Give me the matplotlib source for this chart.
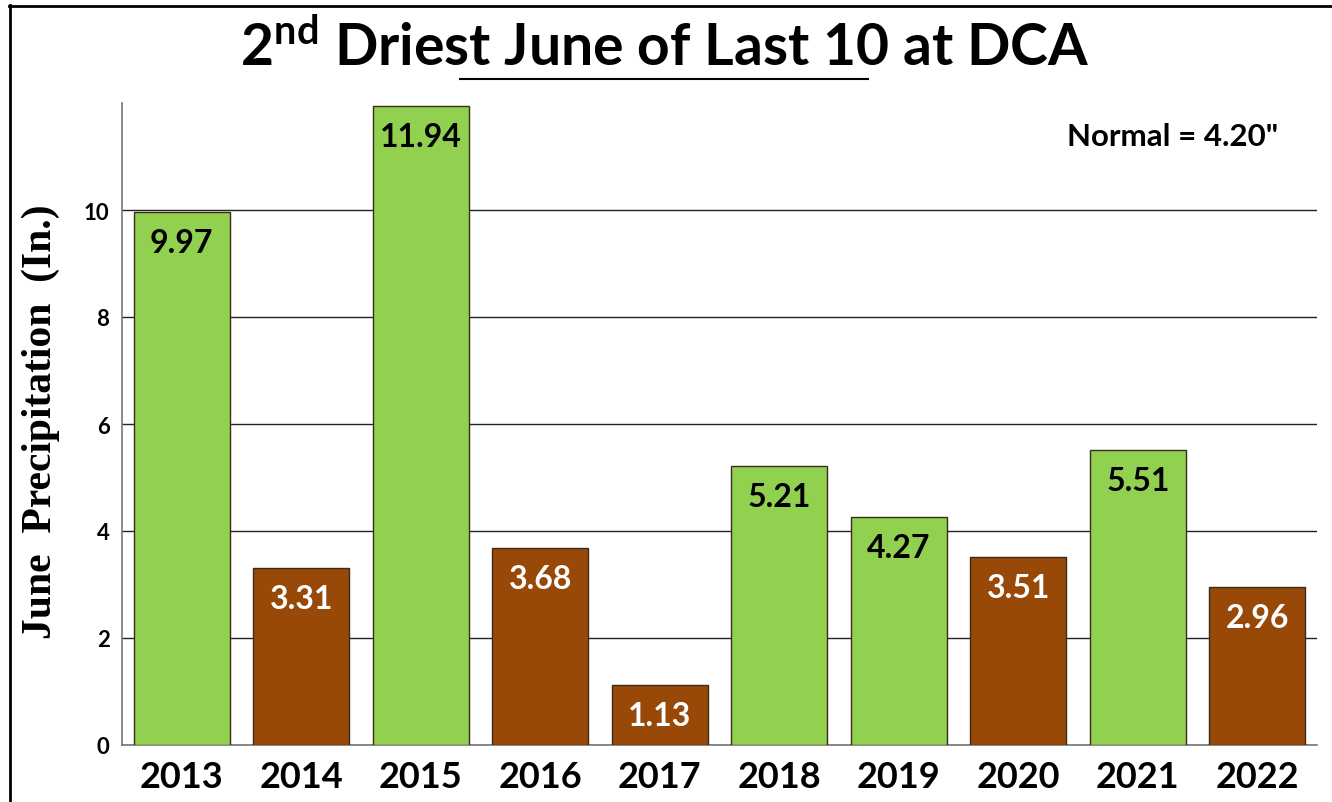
import matplotlib
matplotlib.use("Agg")
import matplotlib.pyplot as plt
from matplotlib.lines import Line2D

years = ["2013", "2014", "2015", "2016", "2017", "2018", "2019", "2020", "2021", "2022"]
precip = [9.97, 3.31, 11.94, 3.68, 1.13, 5.21, 4.27, 3.51, 5.51, 2.96]
normal = 4.20
yticks = [0, 2, 4, 6, 8, 10]

GREEN = "#92D050"
BROWN = "#984807"
FONT = "Lato"

fig = plt.figure(figsize=(13.32, 8.03), dpi=100)
ax = fig.add_axes([122/1332, 57/803, (1317-122)/1332, (746-104)/803])

colors = [GREEN if v > normal else BROWN for v in precip]
x = list(range(len(years)))
bars = ax.bar(x, precip, width=0.80, color=colors, edgecolor="#3a2a1a", linewidth=1.0, zorder=3)

for xi, v, c in zip(x, precip, colors):
    ax.annotate(f"{v:.2f}", (xi, v), xytext=(0, -22), textcoords="offset points",
                ha="center", va="center", fontsize=23, fontweight="bold", family=FONT,
                color="black" if c == GREEN else "white", zorder=4)

ax.set_xlim(-0.5, len(years) - 0.5)
ax.set_ylim(0, 12)
ax.set_yticks(yticks)
ax.set_yticklabels([str(t) for t in yticks], fontsize=16, fontweight="bold", family=FONT)
ax.set_xticks(x)
ax.set_xticklabels(years, fontsize=26, fontweight="bold", family=FONT)
ax.tick_params(axis="y", length=0, pad=9)
ax.tick_params(axis="x", length=0, pad=11)
ax.grid(axis="y", color="#222222", linewidth=1.0, zorder=0)
ax.set_axisbelow(True)
for s in ["top", "right"]:
    ax.spines[s].set_visible(False)
ax.spines["left"].set_color("#777777")
ax.spines["bottom"].set_color("#777777")
ax.spines["left"].set_linewidth(1.2)
ax.spines["bottom"].set_linewidth(1.2)

ax.set_ylabel("June  Precipitation  (In.)", family="Liberation Serif", fontweight="bold",
              fontsize=30)
ax.yaxis.set_label_coords(-0.052, 0.505)

ax.text((1173-122)/(1317-122), (746-137)/(746-104), 'Normal = 4.20"', transform=ax.transAxes,
        ha="center", va="center", fontsize=22.5, fontweight="bold", family=FONT)

fig.text(665/1332, 1 - 48/803, r"2$^{\mathregular{nd}}$ Driest June of Last 10 at DCA",
         ha="center", va="center", fontsize=41, fontweight="bold", family=FONT)

fig.add_artist(Line2D([460/1332, 868/1332], [1 - 80/803, 1 - 80/803], transform=fig.transFigure,
                      color="black", linewidth=1.5))
fig.add_artist(Line2D([9/1332, 1.0], [1 - 6.5/803, 1 - 6.5/803], transform=fig.transFigure,
                      color="black", linewidth=2))
fig.add_artist(Line2D([9.5/1332, 9.5/1332], [0, 1 - 6/803], transform=fig.transFigure,
                      color="black", linewidth=2))

fig.savefig("out.png", dpi=100)
